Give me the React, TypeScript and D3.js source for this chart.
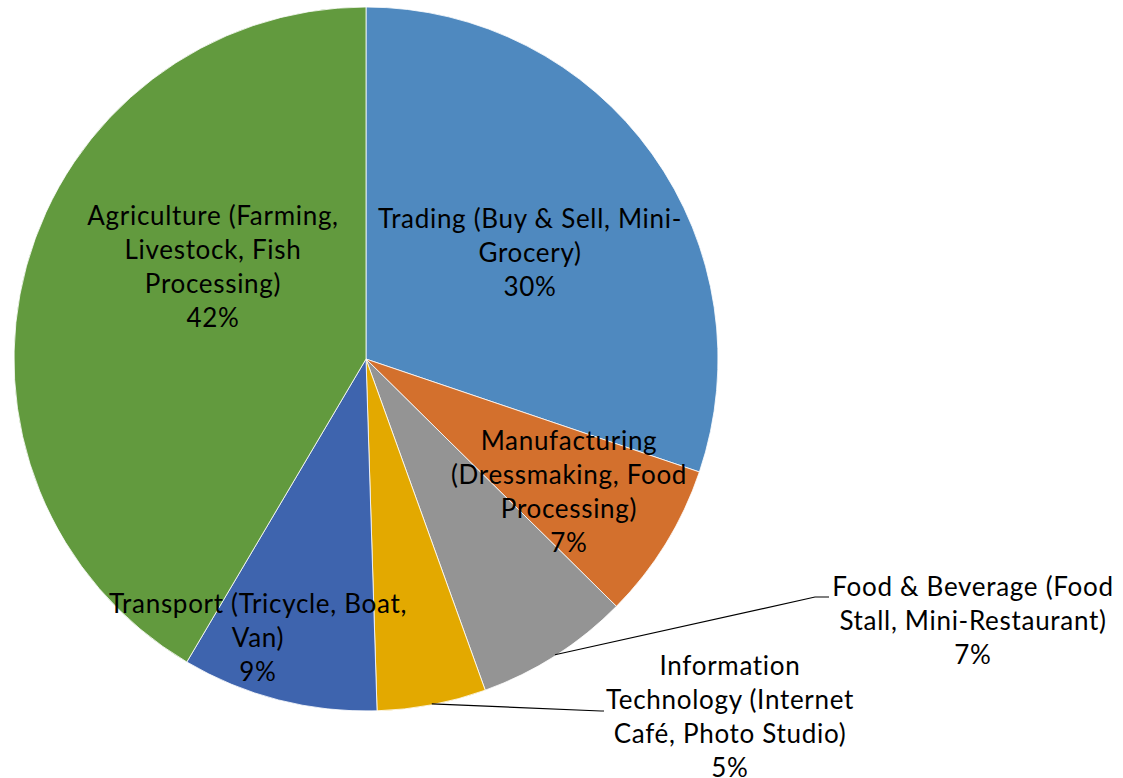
import React from "react";
import * as d3 from "d3";

const categories = [
  "Trading",
  "Manufacturing",
  "Food & Beverage",
  "Information Technology",
  "Transport",
  "Agriculture",
];
const values = [30.2, 7.2, 7.1, 5.0, 9.0, 41.5];
const percentLabels = ["30%", "7%", "7%", "5%", "9%", "42%"];
const labelLines = [
  ["Trading (Buy & Sell, Mini-", "Grocery)"],
  ["Manufacturing", "(Dressmaking, Food", "Processing)"],
  ["Food & Beverage (Food", "Stall, Mini-Restaurant)"],
  ["Information", "Technology (Internet", "Café, Photo Studio)"],
  ["Transport (Tricycle, Boat,", "Van)"],
  ["Agriculture (Farming,", "Livestock, Fish", "Processing)"],
];
const colors = ["#4F89BF", "#D3702D", "#949494", "#E3A900", "#3E64AE", "#629A3E"];

// label anchor: center x, first baseline y
const labelPos = [
  { x: 530, y: 228 },
  { x: 569, y: 450 },
  { x: 973, y: 596 },
  { x: 730, y: 675 },
  { x: 258, y: 613 },
  { x: 213, y: 225 },
];
// leader line elbows for outside labels
const leaders: Record<number, { ex: number; ey: number; hx: number }> = {
  2: { ex: 815, ey: 597, hx: 829 },
  3: { ex: 601, ey: 711, hx: 604 },
};

const W = 1123;
const H = 778;
const cx = 366;
const cy = 359;
const R = 352;
const LH = 34;

export default function App() {
  const pie = d3.pie<number>().sort(null).value((d) => d)(values);
  const arc = d3.arc<d3.PieArcDatum<number>>().innerRadius(0).outerRadius(R);
  return (
    <svg
      width={W}
      height={H}
      style={{ position: "absolute", left: 0, top: 0, background: "#fff" }}
      fontFamily="Lato, 'Open Sans', sans-serif"
    >
      <g transform={`translate(${cx},${cy})`}>
        {pie.map((p, i) => (
          <path key={categories[i]} d={arc(p) || ""} fill={colors[i]} stroke="#ffffff" strokeWidth={0.8} />
        ))}
      </g>
      {pie.map((p, i) => {
        const L = leaders[i];
        if (!L) return null;
        const mid = (p.startAngle + p.endAngle) / 2;
        const sx = cx + Math.sin(mid) * (R - 1);
        const sy = cy - Math.cos(mid) * (R - 1);
        return (
          <polyline
            key={"l" + i}
            points={`${sx},${sy} ${L.ex},${L.ey} ${L.hx},${L.ey}`}
            fill="none"
            stroke="#000"
            strokeWidth={1.2}
          />
        );
      })}
      {labelLines.map((lines, i) => (
        <text key={"t" + i} textAnchor="middle" fontSize={26} letterSpacing={0.7} fill="#000">
          {[...lines, percentLabels[i]].map((ln, j) => (
            <tspan key={j} x={labelPos[i].x} y={labelPos[i].y + j * LH}>
              {ln}
            </tspan>
          ))}
        </text>
      ))}
    </svg>
  );
}
